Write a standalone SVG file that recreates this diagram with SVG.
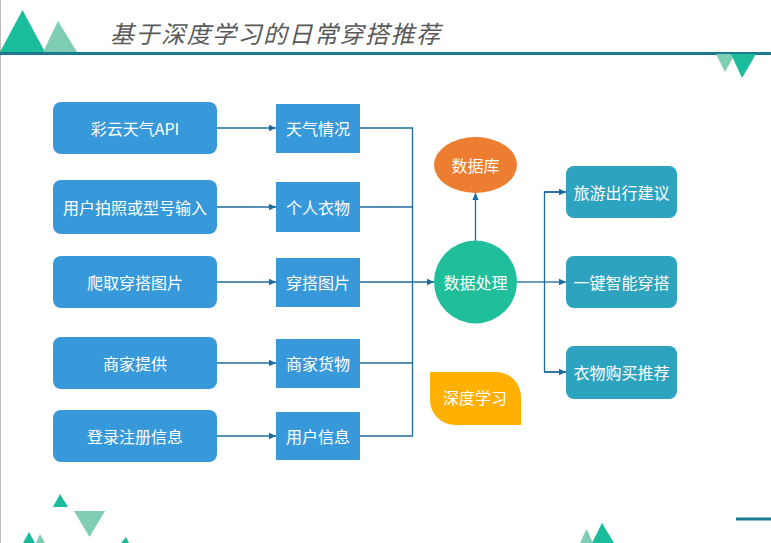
<svg xmlns="http://www.w3.org/2000/svg" width="771" height="543" viewBox="0 0 771 543">
<style>
.t{font-family:"Noto Sans CJK SC","Liberation Sans",sans-serif;font-size:16px;fill:#fff;text-anchor:middle;dominant-baseline:central}
.lb{fill:#3899DA}
.rb{fill:#2EA3C0}
.c{fill:none;stroke:#1F6A9C;stroke-width:1.3}
.d{fill:#1BBC9B}
.l{fill:#80CDB6}
</style>
<defs>
<marker id="a" markerUnits="userSpaceOnUse" markerWidth="8" markerHeight="8" refX="7" refY="4" orient="auto">
<path d="M0,0.8 L7,4 L0,7.2 Z" fill="#1F6A9C"/>
</marker>
</defs>
<rect width="771" height="543" fill="#fff"/>
<line x1="0.5" y1="0" x2="0.5" y2="543" stroke="#BDBDBD" stroke-width="1"/>
<g id="decor">
<polygon class="d" points="22.5,10 0,52 45,52"/>
<polygon class="l" points="58,21 43,52 77,52"/>
<rect x="0" y="52" width="771" height="3" fill="#1B7A8E"/>
<polygon class="l" points="716,54 735,54 725,72"/>
<polygon class="d" points="731,54 756,54 742,78"/>
<polygon class="d" points="60,494 53,507 68,507"/>
<polygon class="l" points="74,511 105,511 89.5,537"/>
<polygon class="d" points="29,532 23,543 35,543"/>
<polygon class="l" points="40,534 36,543 45,543"/>
<polygon class="d" points="126,537 121,543 129,543"/>
<polygon class="l" points="586.5,529 580,543 593,543"/>
<polygon class="d" points="602,523 592,543 614,543"/>
<rect x="736" y="517.5" width="35" height="3" fill="#1B7A8E"/>
</g>
<text x="110" y="43" font-family="'Noto Sans CJK SC',sans-serif" font-size="24" font-style="italic" fill="#595959" textLength="330" lengthAdjust="spacing">基于深度学习的日常穿搭推荐</text>
<g id="connectors">
<line class="c" x1="217" y1="128" x2="276" y2="128" marker-end="url(#a)"/>
<line class="c" x1="217" y1="207" x2="276" y2="207" marker-end="url(#a)"/>
<line class="c" x1="217" y1="282" x2="276" y2="282" marker-end="url(#a)"/>
<line class="c" x1="217" y1="363" x2="276" y2="363" marker-end="url(#a)"/>
<line class="c" x1="217" y1="436" x2="276" y2="436" marker-end="url(#a)"/>
<polyline class="c" points="360,128 412.5,128 412.5,436 360,436"/>
<line class="c" x1="360" y1="207" x2="412.5" y2="207"/>
<line class="c" x1="360" y1="363" x2="412.5" y2="363"/>
<line class="c" x1="360" y1="282" x2="434" y2="282" marker-end="url(#a)"/>
<line class="c" x1="475.5" y1="241" x2="475.5" y2="193" marker-end="url(#a)"/>
<line class="c" x1="517" y1="282" x2="544.5" y2="282"/>
<polyline class="c" points="566,192 544.5,192 544.5,372 566,372" />
<line class="c" x1="544.5" y1="192" x2="566" y2="192" marker-end="url(#a)"/>
<line class="c" x1="544.5" y1="282" x2="566" y2="282" marker-end="url(#a)"/>
<line class="c" x1="544.5" y1="372" x2="566" y2="372" marker-end="url(#a)"/>
</g>
<g id="n1"><rect class="lb" x="53" y="102" width="164" height="52" rx="8"/><text class="t" x="135" y="128">彩云天气API</text></g>
<g id="n2"><rect class="lb" x="53" y="180" width="164" height="54" rx="8"/><text class="t" x="135" y="207">用户拍照或型号输入</text></g>
<g id="n3"><rect class="lb" x="53" y="256" width="164" height="52" rx="8"/><text class="t" x="135" y="282">爬取穿搭图片</text></g>
<g id="n4"><rect class="lb" x="53" y="337" width="164" height="52" rx="8"/><text class="t" x="135" y="363">商家提供</text></g>
<g id="n5"><rect class="lb" x="53" y="410" width="164" height="52" rx="8"/><text class="t" x="135" y="436">登录注册信息</text></g>
<g id="m1"><rect class="lb" x="276" y="104" width="84" height="49"/><text class="t" x="318" y="128">天气情况</text></g>
<g id="m2"><rect class="lb" x="276" y="182" width="84" height="50"/><text class="t" x="318" y="207">个人衣物</text></g>
<g id="m3"><rect class="lb" x="276" y="258" width="84" height="49"/><text class="t" x="318" y="282">穿搭图片</text></g>
<g id="m4"><rect class="lb" x="276" y="339" width="84" height="49"/><text class="t" x="318" y="363">商家货物</text></g>
<g id="m5"><rect class="lb" x="276" y="412" width="84" height="48"/><text class="t" x="318" y="436">用户信息</text></g>
<g id="db"><ellipse cx="475.5" cy="165" rx="41.5" ry="28" fill="#ED7D31"/><text class="t" x="475.5" y="165">数据库</text></g>
<g id="proc"><circle cx="475.5" cy="282" r="41.5" fill="#1FBF9B"/><text class="t" x="475.5" y="282">数据处理</text></g>
<g id="dl"><path d="M430,372 L496,372 A25,25 0 0 1 521,397 L521,425 L455,425 A25,25 0 0 1 430,400 Z" fill="#FFB000"/><text class="t" x="475" y="397">深度学习</text></g>
<g id="r1"><rect class="rb" x="566" y="166" width="111" height="52" rx="8"/><text class="t" x="621.5" y="192">旅游出行建议</text></g>
<g id="r2"><rect class="rb" x="566" y="256" width="111" height="52" rx="8"/><text class="t" x="621.5" y="282">一键智能穿搭</text></g>
<g id="r3"><rect class="rb" x="566" y="346" width="111" height="53" rx="8"/><text class="t" x="621.5" y="372">衣物购买推荐</text></g>
</svg>
